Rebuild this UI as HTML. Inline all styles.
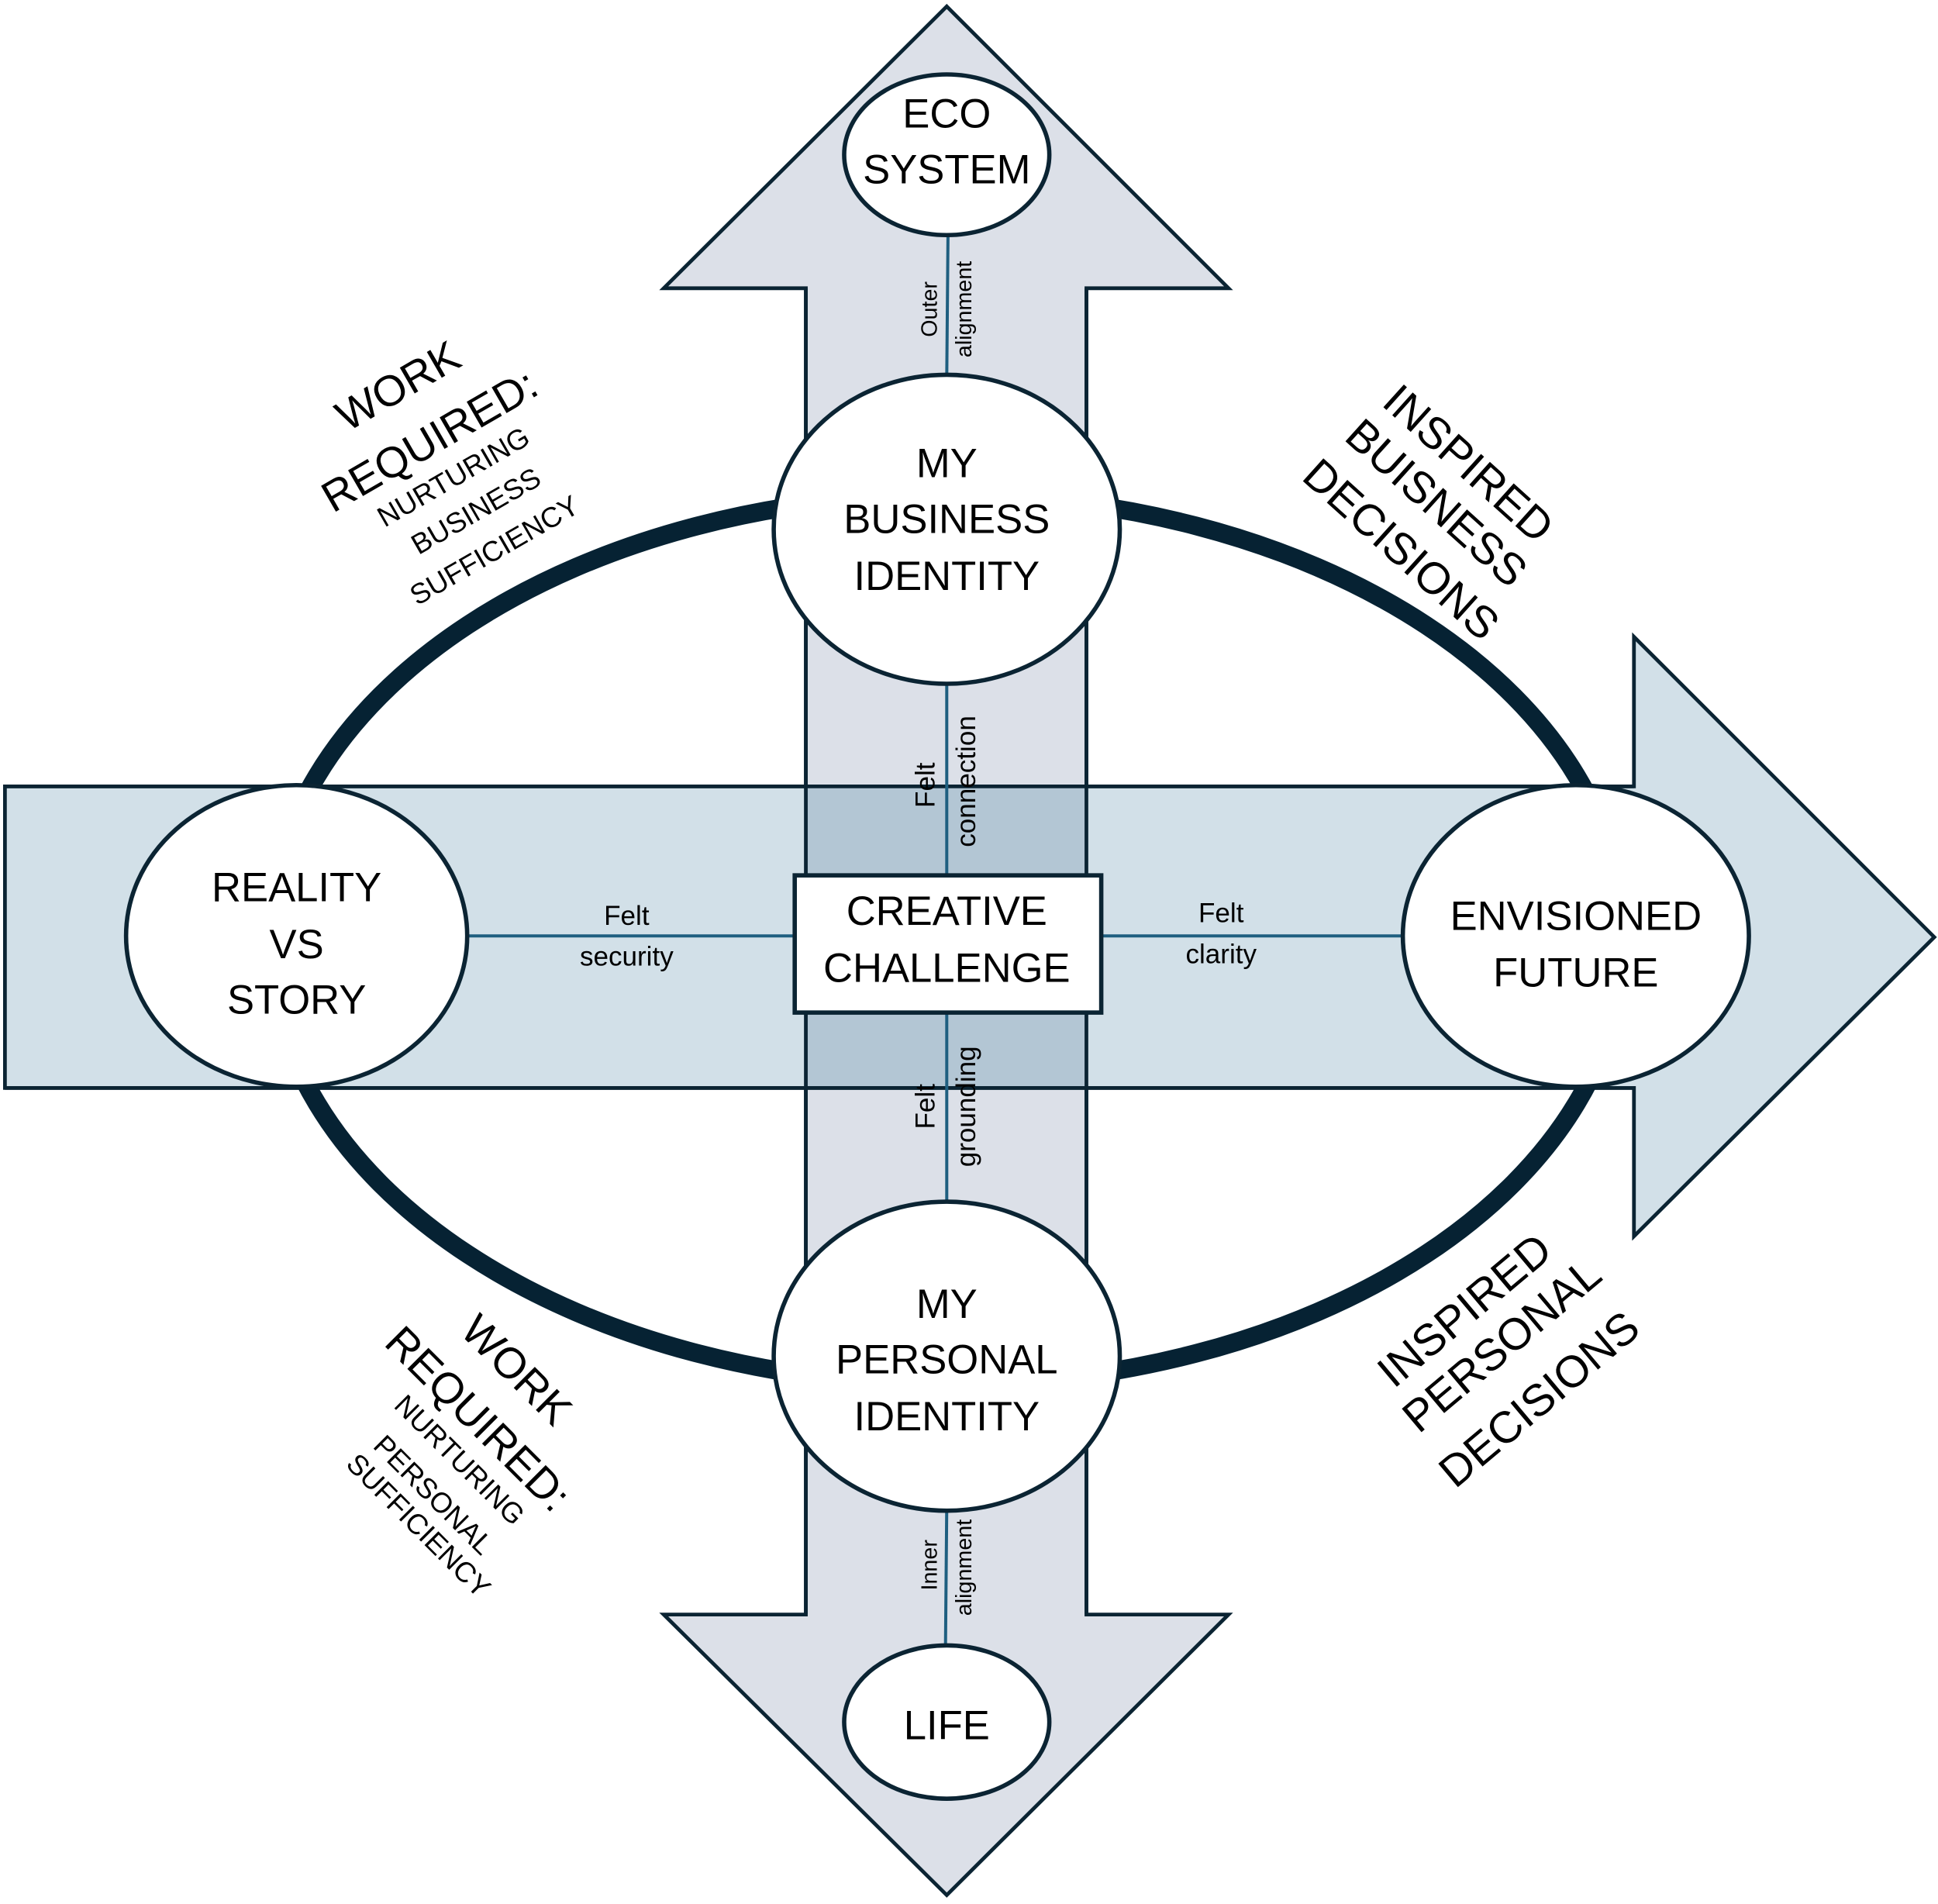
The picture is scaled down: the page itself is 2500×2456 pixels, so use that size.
<!DOCTYPE html>
<html><head><meta charset="utf-8"><style>
html,body{margin:0;padding:0;background:#fff;}
svg{display:block;}
text{font-family:"Liberation Sans",sans-serif;fill:#000;}
</style></head><body>
<svg width="2500" height="2456" viewBox="0 0 1568 1540" xmlns="http://www.w3.org/2000/svg">
<rect width="1568" height="1540" fill="#fff"/>
<polygon points="766,5 994,233 879,233 879,1306 994,1306 766,1533 537,1306 652,1306 652,233 537,233" fill="#dce0e8" stroke="#0b2433" stroke-width="3"/>
<polygon points="4,636 1322,636 1322,515 1565,758 1322,1000 1322,880 4,880" fill="#d2e0e8" stroke="#0b2433" stroke-width="3"/>
<rect x="652" y="636" width="227" height="244" fill="#b3c6d4"/>
<line x1="652" y1="233" x2="652" y2="1306" stroke="#0b2433" stroke-width="3"/>
<line x1="879" y1="233" x2="879" y2="1306" stroke="#0b2433" stroke-width="3"/>
<line x1="4" y1="636" x2="1322" y2="636" stroke="#0b2433" stroke-width="3"/>
<line x1="4" y1="880" x2="1322" y2="880" stroke="#0b2433" stroke-width="3"/>
<ellipse cx="766" cy="760" rx="548" ry="360" fill="none" stroke="#062233" stroke-width="15"/>
<g stroke="#1f5f80" stroke-width="2.5">
<line x1="767" y1="190" x2="766" y2="305"/>
<line x1="766" y1="552" x2="766" y2="708"/>
<line x1="766" y1="819" x2="766" y2="975"/>
<line x1="766" y1="1218" x2="765" y2="1330"/>
<line x1="378" y1="757" x2="643" y2="757"/>
<line x1="891" y1="757" x2="1135" y2="757"/>
</g>
<g fill="#fff" stroke="#0b2433" stroke-width="3.5">
<ellipse cx="766" cy="125" rx="83" ry="65"/>
<ellipse cx="766" cy="428" rx="140" ry="125"/>
<ellipse cx="240" cy="757" rx="138" ry="122"/>
<ellipse cx="1275" cy="757" rx="140" ry="122"/>
<ellipse cx="766" cy="1097" rx="140" ry="125"/>
<ellipse cx="766" cy="1393" rx="83" ry="62"/>
<rect x="643" y="708" width="248" height="111"/>
</g>
<g font-size="33" text-anchor="middle">
<text x="766" y="103">ECO</text><text x="766" y="148">SYSTEM</text>
<text x="766" y="386">MY</text><text x="766" y="431">BUSINESS</text><text x="766" y="477">IDENTITY</text>
<text x="240" y="729">REALITY</text><text x="240" y="775">VS</text><text x="240" y="820">STORY</text>
<text x="1275" y="752">ENVISIONED</text><text x="1275" y="798">FUTURE</text>
<text x="766" y="1066">MY</text><text x="766" y="1111">PERSONAL</text><text x="766" y="1157">IDENTITY</text>
<text x="766" y="1407">LIFE</text>
<text x="766" y="748">CREATIVE</text><text x="766" y="794">CHALLENGE</text>
</g>
<g font-size="22" text-anchor="middle">
<text x="507" y="748">Felt</text><text x="507" y="781">security</text>
<text x="988" y="746">Felt</text><text x="988" y="779">clarity</text>
<g transform="translate(756,635) rotate(-90)"><text x="0" y="0">Felt</text></g>
<g transform="translate(789,632) rotate(-90)"><text x="0" y="0">connection</text></g>
<g transform="translate(756,895) rotate(-90)"><text x="0" y="0">Felt</text></g>
<g transform="translate(789,895) rotate(-90)"><text x="0" y="0">grounding</text></g>
</g>
<g font-size="18" text-anchor="middle">
<g transform="translate(758,250) rotate(-90)"><text x="0" y="0">Outer</text></g>
<g transform="translate(786,250) rotate(-90)"><text x="0" y="0">alignment</text></g>
<g transform="translate(758,1266) rotate(-90)"><text x="0" y="0">Inner</text></g>
<g transform="translate(786,1268) rotate(-90)"><text x="0" y="0">alignment</text></g>
</g>
<g transform="translate(322,312) rotate(-30)" text-anchor="middle">
<text x="0" y="12" font-size="35">WORK</text>
<text x="0" y="63" font-size="35">REQUIRED:</text>
<text x="2" y="94" font-size="23">NURTURING</text>
<text x="4" y="127" font-size="23">BUSINESS</text>
<text x="1" y="162" font-size="23">SUFFICIENCY</text>
</g>
<g transform="translate(1188,375) rotate(42)" text-anchor="middle">
<text x="0" y="12" font-size="36">INSPIRED</text>
<text x="2" y="53" font-size="36">BUISNESS</text>
<text x="6" y="100" font-size="36">DECISIONS</text>
</g>
<g transform="translate(418,1108) rotate(45)" text-anchor="middle">
<text x="0" y="12" font-size="35">WORK</text>
<text x="6" y="62" font-size="35">REQUIRED:</text>
<text x="19" y="92" font-size="23">NURTURING</text>
<text x="24" y="127" font-size="23">PERSONAL</text>
<text x="33" y="153" font-size="23">SUFFICIENCY</text>
</g>
<g transform="translate(1185,1060) rotate(-40)" text-anchor="middle">
<text x="0" y="12" font-size="36">INSPIRED</text>
<text x="5" y="53" font-size="36">PERSONAL</text>
<text x="0" y="106" font-size="36">DECISIONS</text>
</g>
</svg>
</body></html>
